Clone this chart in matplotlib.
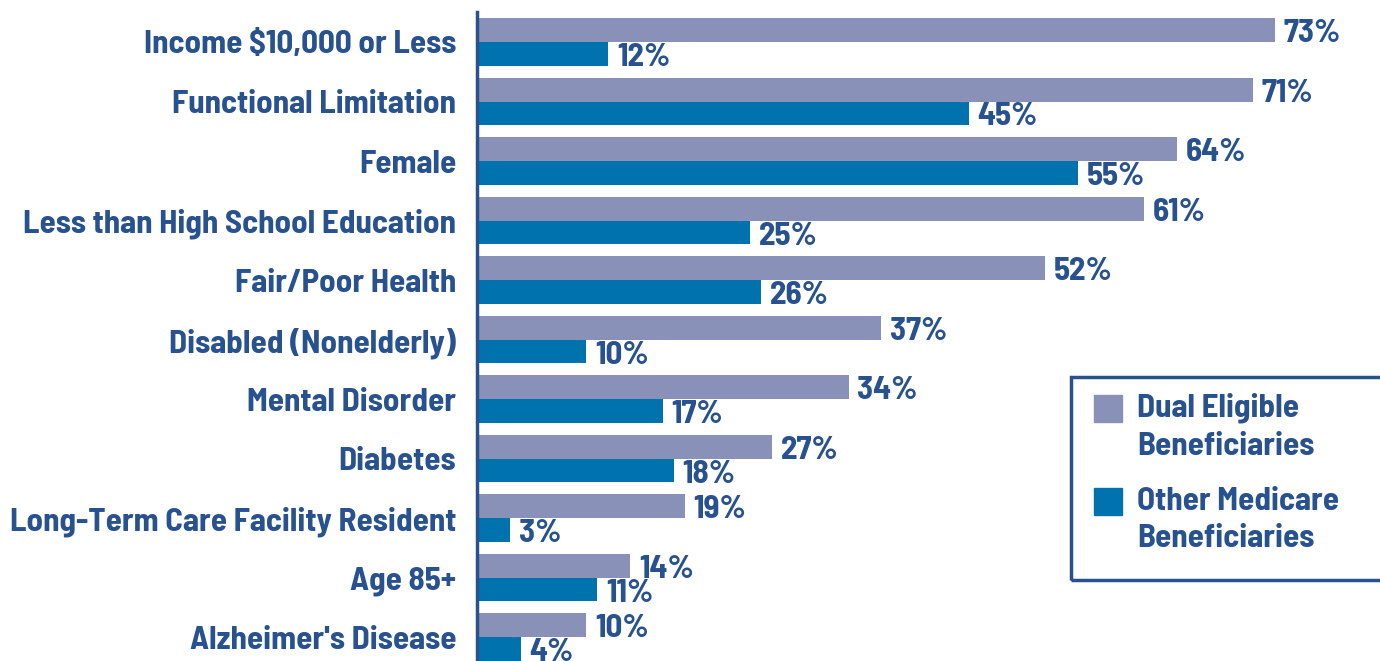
import matplotlib
matplotlib.use("Agg")
import matplotlib.pyplot as plt
from matplotlib.patches import Rectangle

categories = ["Income $10,000 or Less", "Functional Limitation", "Female",
              "Less than High School Education", "Fair/Poor Health",
              "Disabled (Nonelderly)", "Mental Disorder", "Diabetes",
              "Long-Term Care Facility Resident", "Age 85+", "Alzheimer's Disease"]
dual = [73, 71, 64, 61, 52, 37, 34, 27, 19, 14, 10]
other = [12, 45, 55, 25, 26, 10, 17, 18, 3, 11, 4]
series_names = ["Dual Eligible\nBeneficiaries", "Other Medicare\nBeneficiaries"]

c_dual = "#8A91B8"
c_other = "#0072AE"
c_text = "#27518F"
font = ["Barlow Semi Condensed", "DejaVu Sans"]
fs = 23.8

W, H = 1380, 661
fig = plt.figure(figsize=(W / 100, H / 100), dpi=100)
ax = fig.add_axes([477 / W, 0, 1 - 477 / W, (H - 12) / H])

y = list(range(len(categories)))
h = 0.4
ax.barh([i - h / 2 for i in y], dual, height=h, color=c_dual)
ax.barh([i + h / 2 for i in y], other, height=h, color=c_other)

for i, (d, o) in enumerate(zip(dual, other)):
    ax.text(d + 0.8, i - h / 2 + 0.06, f"{d}%", va="center", ha="left",
            color=c_text, fontsize=fs, fontweight="bold", family=font)
    ax.text(o + 0.8, i + h / 2 + 0.06, f"{o}%", va="center", ha="left",
            color=c_text, fontsize=fs, fontweight="bold", family=font)

ax.set_xlim(0, (W - 477) / 10.93)
ax.set_ylim(10.40, -0.504)
ax.set_yticks(y)
ax.set_yticklabels(categories)
for lab in ax.get_yticklabels():
    lab.set_fontsize(fs)
    lab.set_fontweight("bold")
    lab.set_color(c_text)
    lab.set_family(font)
ax.tick_params(axis="y", length=0, pad=15)
ax.set_xticks([])
for s in ["top", "right", "bottom"]:
    ax.spines[s].set_visible(False)
ax.spines["left"].set_color(c_text)
ax.spines["left"].set_linewidth(2.5)

# legend: box, swatches, two-line names
fig.patches.append(Rectangle((1071 / W, 1 - 580 / H), 0.5, (580 - 377) / H,
                             transform=fig.transFigure, fill=False,
                             edgecolor=c_text, linewidth=2.5))
for k, (name, col) in enumerate(zip(series_names, [c_dual, c_other])):
    top = 395 + k * 93
    fig.patches.append(Rectangle((1094 / W, 1 - (top + 27) / H), 28 / W, 27 / H,
                                 transform=fig.transFigure, color=col))
    fig.text(1137 / W, 1 - (top + 32) / H, name, va="center", ha="left",
             color=c_text, fontsize=fs, fontweight="bold", family=font,
             linespacing=1.38)

fig.savefig("out.png", dpi=100)
